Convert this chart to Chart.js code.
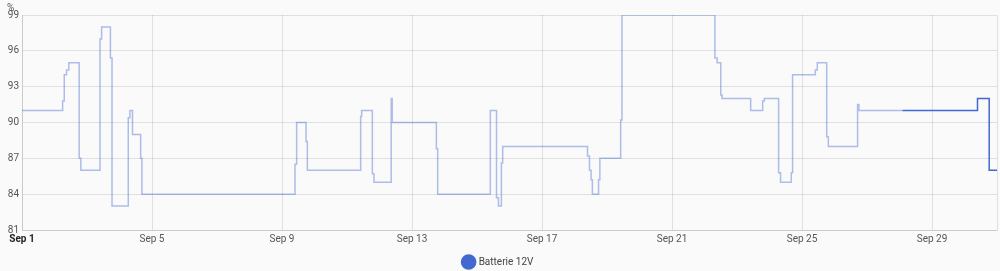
<!DOCTYPE html>
<html>
<head>
<meta charset="utf-8">
<script src="https://cdn.jsdelivr.net/npm/chart.js@4.4.1/dist/chart.umd.min.js"></script>
<style>
  html, body { margin: 0; padding: 0; background: #fafafa; }
  #wrap { position: relative; width: 1000px; height: 271px; }
  #unit { position: absolute; left: 7px; top: 2px; font: 10px Roboto, sans-serif; color: #555; }
</style>
</head>
<body>
<div id="wrap">
  <div id="unit">%</div>
  <canvas id="chart" width="1000" height="271"></canvas>
</div>
<script>
// time in days since Sep 1 00:00, values in %
const statsDays = [0, 1.25, 1.30, 1.37, 1.44, 1.76, 1.81, 2.40, 2.45, 2.72, 2.77, 3.27, 3.32, 3.40, 3.65, 3.69,
    8.40, 8.45, 8.74, 8.78, 10.42, 10.45, 10.78, 10.83, 11.36, 11.39, 12.75, 12.79, 14.41, 14.60, 14.66, 14.75, 14.79,
    17.40, 17.46, 17.51, 17.55, 17.74, 17.78, 18.42, 18.46, 21.32, 21.39, 21.50, 21.54, 22.42, 22.79, 22.84,
    23.28, 23.34, 23.67, 23.71, 24.41, 24.47, 24.76, 24.81, 25.71, 25.75, 27.09];
const statsValues = [91, 91.8, 94, 94.4, 95, 87, 86, 97, 98, 95.4, 83, 90.4, 91, 89, 87, 84,
    86.5, 90, 88.4, 86, 90.5, 91, 85.7, 85, 92, 90, 87.8, 84, 91, 83.7, 83, 86.6, 88,
    87.2, 86, 85.2, 84, 85.2, 87, 90.2, 99, 95.4, 95, 92.3, 92, 91, 91.8, 92,
    85.8, 85, 85.8, 94, 94.4, 95, 88.8, 88, 91.5, 91, 91];
const historyDays = [27.09, 29.40, 29.76, 30];
const historyValues = [91, 92, 86, 86];

const tickDays = [0, 4, 8, 12, 16, 20, 24, 28, 30];
const yMin = 81, yMax = 99, yStep = 3;
const seriesName = 'Batterie 12V';
const color = '#4269d0';

function toPoints(days, values) {
    return days.map((d, i) => ({ x: d, y: values[i] }));
}

Chart.defaults.font.family = 'Roboto, sans-serif';
Chart.defaults.font.size = 10;
Chart.defaults.color = '#555';

new Chart(document.getElementById('chart'), {
    type: 'line',
    data: {
        datasets: [
            {
                label: seriesName,
                data: toPoints(historyDays, historyValues),
                borderColor: color,
                backgroundColor: color,
                borderWidth: 1.5,
                pointRadius: 0,
                stepped: true,
                fill: false
            },
            {
                label: seriesName + ' (stats)',
                data: toPoints(statsDays, statsValues),
                borderColor: 'rgba(66, 105, 208, 0.42)',
                borderWidth: 1.5,
                pointRadius: 0,
                stepped: true,
                fill: false
            }
        ]
    },
    options: {
        responsive: false,
        animation: false,
        layout: { padding: { top: 15, right: 3, left: 0, bottom: -6 } },
        plugins: {
            tooltip: { enabled: false },
            legend: {
                position: 'bottom',
                labels: {
                    usePointStyle: true,
                    pointStyle: 'circle',
                    boxWidth: 10,
                    boxHeight: 10,
                    padding: 4,
                    color: '#444',
                    font: { size: 10 },
                    filter: item => item.datasetIndex === 0
                }
            }
        },
        scales: {
            x: {
                type: 'linear',
                min: 0,
                max: 30,
                afterBuildTicks: scale => {
                    scale.ticks = tickDays.map(v => ({ value: v }));
                },
                afterFit: scale => { scale.height += 5; },
                ticks: {
                    autoSkip: false,
                    maxRotation: 0,
                    padding: 3,
                    color: ctx => ctx.tick && ctx.tick.value === 0 ? '#222' : '#555',
                    font: ctx => ({ size: 10, weight: ctx.tick && ctx.tick.value === 0 ? 'bold' : 'normal' }),
                    callback: v => v >= 30 ? '' : 'Sep ' + (v + 1)
                },
                grid: { color: 'rgba(0,0,0,0.1)', drawTicks: false },
                border: { color: 'rgba(0,0,0,0.1)' }
            },
            y: {
                min: yMin,
                max: yMax,
                afterFit: scale => { scale.width = 22; },
                ticks: { stepSize: yStep, padding: 3 },
                grid: { color: 'rgba(0,0,0,0.1)', drawTicks: false },
                border: { color: 'rgba(0,0,0,0.1)' }
            }
        }
    }
});
</script>
</body>
</html>
